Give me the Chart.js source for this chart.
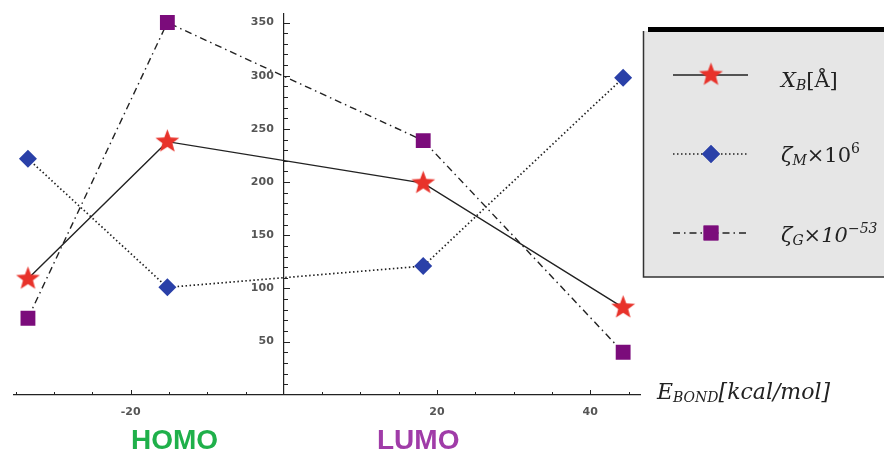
<!DOCTYPE html>
<html>
<head>
<meta charset="utf-8">
<script src="https://cdn.jsdelivr.net/npm/chart.js@4/dist/chart.umd.min.js"></script>
<style>
    html, body { margin: 0; padding: 0; background: #fff; }
    #wrap { position: relative; width: 884px; height: 453px; overflow: hidden; }
    #chart { position: absolute; left: 0; top: 0; }
    .lab {
        position: absolute;
        font-family: "DejaVu Serif", "Liberation Serif", serif;
        font-style: italic;
        font-size: 21px;
        line-height: 1;
        color: #222;
        white-space: nowrap;
    }
    .lab .sb { position: relative; top: 3px; font-size: 14px; }
    .lab .sp { position: relative; top: -9px; font-size: 14px; }
    .lab .up { font-style: normal; }
    .big {
        position: absolute;
        font-family: "Liberation Sans", Arial, sans-serif;
        font-weight: bold;
        font-size: 28px;
        line-height: 1;
    }
</style>
</head>
<body>
<div id="wrap">
    <canvas id="chart" width="884" height="453"></canvas>
    <div class="lab" style="left:781px; top:70px;">X<span class="sb">B</span><span class="up">[Å]</span></div>
    <div class="lab" style="left:781px; top:145px;">ζ<span class="sb">M</span><span class="up">×10</span><span class="sp up">6</span></div>
    <div class="lab" style="left:781px; top:225px;">ζ<span class="sb">G</span><span class="up">×</span>10<span class="sp">−53</span></div>
    <div class="lab" style="left:657px; top:381px; font-size:22px;">E<span class="sb">BOND</span>[kcal/mol]</div>
    <div class="big" style="left:131px; top:426px; color:#1fb04a;">HOMO</div>
    <div class="big" style="left:377px; top:426px; color:#a03ca8;">LUMO</div>
</div>
<script>
// values
const eBond = [-33.4, -15.2, 18.2, 44.3];
const xB    = [109, 238, 199, 82];
const zetaM = [222, 101, 121, 298];
const zetaG = [72, 350, 239, 40];

const xTicks = [-20, 20, 40];
const yTicks = [50, 100, 150, 200, 250, 300, 350];

const lineColor = '#222';

function starImage(r, color) {
    const c = document.createElement('canvas');
    const s = Math.ceil(r * 2 + 2);
    c.width = s; c.height = s;
    const g = c.getContext('2d');
    g.beginPath();
    for (let i = 0; i < 10; i++) {
        const rr = i % 2 === 0 ? r : r * 0.42;
        const a = -Math.PI / 2 + i * Math.PI / 5;
        const px = s / 2 + rr * Math.cos(a);
        const py = s / 2 + rr * Math.sin(a);
        if (i === 0) g.moveTo(px, py); else g.lineTo(px, py);
    }
    g.closePath();
    g.fillStyle = color;
    g.fill();
    return c;
}

const star = starImage(12.5, '#e8322a');

function pts(ys) {
    return eBond.map((x, i) => ({ x: x, y: ys[i] }));
}

// y axis sits at x = 0; chart.js puts its labels flush on the line, nudge them left
function shiftYLabels(scale) {
    if (scale._shifted) return;
    scale._shifted = true;
    const orig = scale.drawLabels;
    scale.drawLabels = function(area) {
        const ctx = this.ctx;
        ctx.save();
        ctx.translate(-10, 0);
        orig.call(this, area);
        ctx.restore();
    };
}

// tick marks (inside) and the legend box
const decor = {
    id: 'decor',
    afterDraw(chart) {
        const ctx = chart.ctx;
        const xs = chart.scales.x;
        const ys = chart.scales.y;
        const x0 = Math.round(xs.getPixelForValue(0));
        const y0 = Math.round(ys.getPixelForValue(0));
        ctx.save();
        ctx.strokeStyle = lineColor;
        ctx.lineWidth = 1;
        for (let v = 10; v <= 350; v += 10) {
            const py = Math.round(ys.getPixelForValue(v)) + 0.5;
            const len = v % 50 === 0 ? 6 : 4;
            ctx.beginPath();
            ctx.moveTo(x0, py);
            ctx.lineTo(x0 + len, py);
            ctx.stroke();
        }
        for (let v = -35; v <= 45; v += 5) {
            if (v === 0) continue;
            const px = Math.round(xs.getPixelForValue(v)) + 0.5;
            const len = v % 20 === 0 ? 5 : 3;
            ctx.beginPath();
            ctx.moveTo(px, y0);
            ctx.lineTo(px, y0 - len);
            ctx.stroke();
        }

        // legend box
        ctx.fillStyle = '#e6e6e6';
        ctx.fillRect(643, 31, 241, 246);
        ctx.strokeStyle = '#333';
        ctx.lineWidth = 1.5;
        ctx.beginPath();
        ctx.moveTo(643.5, 31);
        ctx.lineTo(643.5, 277);
        ctx.lineTo(884, 277);
        ctx.stroke();
        ctx.fillStyle = '#000';
        ctx.fillRect(648, 27, 236, 5);

        const rows = [75, 154, 233];
        chart.data.datasets.forEach((ds, i) => {
            const y = rows[i];
            ctx.strokeStyle = ds.borderColor;
            ctx.lineWidth = ds.borderWidth;
            ctx.setLineDash(ds.borderDash || []);
            ctx.beginPath();
            ctx.moveTo(673, y);
            ctx.lineTo(748, y);
            ctx.stroke();
            ctx.setLineDash([]);
            ctx.fillStyle = ds.pointBackgroundColor;
            ctx.beginPath();
            Chart.helpers.drawPoint(ctx, {
                pointStyle: ds.pointStyle,
                radius: ds.pointRadius,
                borderWidth: 0,
                rotation: 0
            }, 711, y);
            if (typeof ds.pointStyle === 'string') ctx.fill();
        });
        ctx.restore();
    }
};

new Chart(document.getElementById('chart'), {
    type: 'scatter',
    data: {
        datasets: [
            {
                label: 'X_B',
                data: pts(xB),
                showLine: true,
                borderColor: lineColor,
                borderWidth: 1.4,
                pointStyle: star,
                pointRadius: 12,
                pointBackgroundColor: '#e8322a',
                pointBorderColor: '#e8322a'
            },
            {
                label: 'zeta_M',
                data: pts(zetaM),
                showLine: true,
                borderColor: lineColor,
                borderWidth: 1.7,
                borderDash: [1.5, 2.5],
                pointStyle: 'rectRot',
                pointRadius: 9,
                pointBorderWidth: 0,
                pointBackgroundColor: '#2a40a8',
                pointBorderColor: '#2a40a8'
            },
            {
                label: 'zeta_G',
                data: pts(zetaG),
                showLine: true,
                borderColor: lineColor,
                borderWidth: 1.4,
                borderDash: [7, 4, 1.5, 4],
                pointStyle: 'rect',
                pointRadius: 10.5,
                pointBorderWidth: 0,
                pointBackgroundColor: '#7b0c7b',
                pointBorderColor: '#7b0c7b'
            }
        ]
    },
    options: {
        responsive: false,
        animation: false,
        layout: { padding: { left: 10, right: 244, top: 14, bottom: 31 } },
        plugins: {
            legend: { display: false },
            tooltip: { enabled: false }
        },
        scales: {
            x: {
                type: 'linear',
                position: 'bottom',
                min: -35.3,
                max: 46.5,
                afterBuildTicks: s => { s.ticks = xTicks.map(v => ({ value: v })); },
                grid: { display: false },
                border: { display: true, color: lineColor, width: 1.2 },
                ticks: {
                    padding: 3,
                    color: '#555',
                    font: { family: 'DejaVu Sans', size: 11, weight: 'bold' }
                }
            },
            y: {
                type: 'linear',
                position: { x: 0 },
                min: 0,
                max: 358,
                afterBuildTicks: s => { s.ticks = yTicks.map(v => ({ value: v })); },
                afterUpdate: shiftYLabels,
                grid: { display: false },
                border: { display: true, color: lineColor, width: 1.2 },
                ticks: {
                    color: '#555',
                    font: { family: 'DejaVu Sans', size: 11, weight: 'bold' }
                }
            }
        }
    },
    plugins: [decor]
});
</script>
</body>
</html>
